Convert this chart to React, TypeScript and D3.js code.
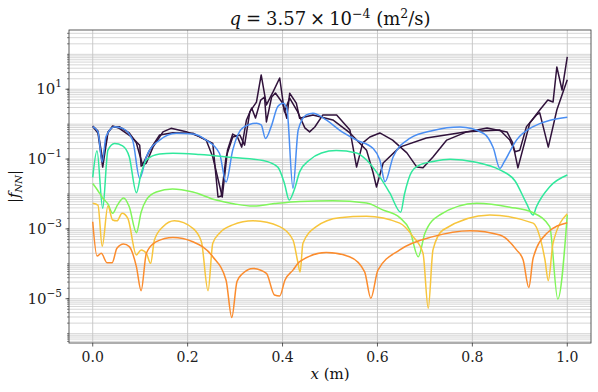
import React from 'react';
import * as d3 from 'd3';

// ---------- data ----------
const xTickValues = [0, 0.2, 0.4, 0.6, 0.8, 1.0];
const xTickLabels = ['0.0', '0.2', '0.4', '0.6', '0.8', '1.0'];
const yTickExponents = [-5, -3, -1, 1];
const yTickLabels = ['−5', '−3', '−1', '1'];

const darkAX = [0, 0.011, 0.021, 0.032, 0.042, 0.056, 0.081, 0.099, 0.102, 0.113, 0.127, 0.148, 0.165, 0.197, 0.225, 0.253, 0.264, 0.271, 0.281, 0.295, 0.310, 0.320, 0.331, 0.345, 0.355, 0.366, 0.380, 0.394, 0.404, 0.415, 0.432, 0.447, 0.457, 0.468, 0.485, 0.514, 0.542, 0.556, 0.569, 0.584, 0.605, 0.632, 0.662, 0.683, 0.696, 0.717, 0.746, 0.788, 0.831, 0.873, 0.885, 0.896, 0.921, 0.942, 0.959, 0.970, 0.978, 0.989, 1.0];
const darkAY = [0.85, 0.56, 0.059, 0.56, 0.89, 0.76, 0.44, 0.25, 0.063, 0.077, 0.22, 0.60, 0.76, 0.61, 0.44, 0.28, 0.0082, 0.0088, 0.115, 0.43, 0.49, 0.25, 2.24, 4.3, 25.7, 3.55, 8.4, 21, 2.24, 5.6, 2.24, 0.78, 0.60, 0.83, 1.84, 1.84, 0.68, 0.059, 0.29, 0.43, 0.56, 0.35, 0.15, 0.059, 0.056, 0.115, 0.35, 0.60, 0.78, 0.60, 0.29, 0.056, 1.08, 2.55, 4.9, 4.3, 43.5, 9.5, 84];

const darkBX = [0, 0.011, 0.021, 0.032, 0.042, 0.056, 0.077, 0.092, 0.105, 0.120, 0.141, 0.169, 0.211, 0.239, 0.253, 0.273, 0.284, 0.295, 0.305, 0.314, 0.324, 0.335, 0.343, 0.354, 0.362, 0.366, 0.377, 0.385, 0.400, 0.409, 0.415, 0.429, 0.436, 0.464, 0.506, 0.542, 0.577, 0.591, 0.598, 0.612, 0.647, 0.703, 0.788, 0.858, 0.879, 0.890, 0.900, 0.914, 0.935, 0.942, 0.960, 0.978, 1.0];
const darkBY = [0.89, 0.64, 0.094, 0.60, 0.83, 0.85, 0.56, 0.29, 0.068, 0.18, 0.49, 0.57, 0.55, 0.35, 0.115, 0.0082, 0.18, 0.52, 0.43, 0.22, 1.32, 2.9, 1.5, 4.9, 6.0, 1.16, 6.0, 7.8, 4.05, 1.48, 7.7, 4.0, 1.48, 1.84, 1.32, 0.56, 0.18, 0.040, 0.0159, 0.077, 0.22, 0.40, 0.61, 0.68, 0.35, 0.163, 0.18, 0.85, 1.84, 2.1, 0.22, 2.55, 18.6];

const blueX = [0, 0.011, 0.020, 0.028, 0.046, 0.063, 0.084, 0.099, 0.113, 0.141, 0.176, 0.211, 0.239, 0.267, 0.281, 0.295, 0.316, 0.345, 0.355, 0.364, 0.376, 0.390, 0.401, 0.409, 0.422, 0.433, 0.450, 0.464, 0.492, 0.520, 0.556, 0.591, 0.605, 0.616, 0.633, 0.668, 0.717, 0.774, 0.823, 0.844, 0.858, 0.867, 0.893, 0.928, 1.0];
const blueY = [0.85, 0.61, 0.083, 0.44, 0.85, 0.76, 0.35, 0.028, 0.117, 0.35, 0.55, 0.52, 0.35, 0.147, 0.022, 0.18, 0.78, 1.06, 0.95, 0.39, 0.85, 3.2, 4.0, 2.85, 0.0146, 0.68, 1.84, 2.05, 1.32, 0.68, 0.35, 0.20, 0.094, 0.0225, 0.115, 0.39, 0.66, 0.83, 0.55, 0.21, 0.054, 0.083, 0.35, 0.85, 1.58];

const tealX = [0, 0.009, 0.021, 0.032, 0.046, 0.063, 0.077, 0.092, 0.102, 0.113, 0.141, 0.169, 0.225, 0.295, 0.359, 0.390, 0.404, 0.414, 0.426, 0.436, 0.457, 0.482, 0.513, 0.556, 0.577, 0.605, 0.626, 0.649, 0.657, 0.672, 0.689, 0.717, 0.753, 0.805, 0.858, 0.890, 0.914, 0.928, 0.935, 0.963, 1.0];
const tealY = [0.030, 0.174, 0.0039, 0.18, 0.28, 0.24, 0.117, 0.0109, 0.039, 0.094, 0.14, 0.147, 0.135, 0.111, 0.091, 0.059, 0.020, 0.0067, 0.0149, 0.043, 0.094, 0.15, 0.176, 0.15, 0.094, 0.031, 0.0107, 0.0030, 0.010, 0.043, 0.068, 0.085, 0.099, 0.083, 0.049, 0.0236, 0.0054, 0.0025, 0.0043, 0.0162, 0.035];

const limeX = [0, 0.010, 0.021, 0.032, 0.042, 0.052, 0.065, 0.077, 0.092, 0.102, 0.113, 0.134, 0.168, 0.211, 0.260, 0.299, 0.337, 0.383, 0.436, 0.506, 0.577, 0.611, 0.647, 0.668, 0.686, 0.700, 0.731, 0.809, 0.879, 0.928, 0.963, 0.980, 1.0];
const limeY = [0.020, 0.013, 0.0077, 0.0052, 0.0028, 0.0048, 0.0077, 0.0043, 0.00078, 0.0030, 0.0068, 0.0114, 0.0139, 0.0114, 0.0067, 0.0052, 0.0045, 0.0053, 0.0061, 0.0064, 0.0055, 0.0035, 0.0021, 0.00093, 0.00016, 0.00075, 0.0025, 0.0054, 0.0042, 0.0029, 0.00116, 9.8e-6, 0.0025];

const yellowX = [0, 0.011, 0.020, 0.032, 0.042, 0.051, 0.062, 0.074, 0.092, 0.102, 0.113, 0.122, 0.130, 0.148, 0.172, 0.211, 0.229, 0.243, 0.253, 0.267, 0.295, 0.338, 0.394, 0.422, 0.432, 0.437, 0.443, 0.471, 0.520, 0.577, 0.647, 0.675, 0.696, 0.707, 0.717, 0.738, 0.837, 0.928, 0.942, 0.953, 0.960, 0.970, 1.0];
const yellowY = [0.0054, 0.0048, 0.00032, 0.0045, 0.0018, 0.0017, 0.0028, 0.0020, 0.00018, 0.00025, 0.0002, 0.000103, 0.00048, 0.00116, 0.0017, 0.00104, 0.00043, 1.7e-5, 0.00039, 0.00075, 0.0013, 0.0017, 0.00116, 0.00048, 0.000115, 5.8e-5, 0.00039, 0.00116, 0.0021, 0.0023, 0.00146, 0.0006, 0.0002, 5.3e-6, 0.00025, 0.00093, 0.0025, 0.00146, 0.0006, 0.000129, 3.3e-5, 0.00039, 0.0027];

const orangeX = [0, 0.009, 0.018, 0.030, 0.041, 0.051, 0.065, 0.077, 0.092, 0.102, 0.113, 0.134, 0.169, 0.211, 0.253, 0.281, 0.293, 0.304, 0.316, 0.338, 0.366, 0.383, 0.394, 0.405, 0.422, 0.436, 0.492, 0.541, 0.573, 0.586, 0.601, 0.647, 0.717, 0.795, 0.858, 0.893, 0.907, 0.919, 0.928, 0.957, 1.0];
const orangeY = [0.0016, 0.000167, 0.0002, 0.000108, 0.000108, 0.00028, 0.00037, 0.00031, 8.3e-5, 1.7e-5, 0.0002, 0.00043, 0.00057, 0.00043, 0.00016, 3.4e-5, 2.9e-6, 3.1e-5, 5.3e-5, 7.4e-5, 5.3e-5, 1.28e-5, 1.2e-5, 3.4e-5, 6.6e-5, 0.000115, 0.00021, 0.00016, 5.9e-5, 1.03e-5, 6.6e-5, 0.00025, 0.0006, 0.00089, 0.00067, 0.00025, 0.000129, 2.1e-5, 0.000144, 0.00075, 0.0015];

const seriesColors = ['#30123b', '#30123b', '#4a8ef2', '#30e89c', '#80f55a', '#f7c53c', '#fb8c2e'];

// ---------- layout ----------
const W = 598;
const H = 392;
const PL = 69, PR = 591, PT = 30, PB = 343;
const FONT = 'DejaVu Serif, serif';

export default function App() {
  const x = d3.scaleLinear().domain([-0.05, 1.05]).range([PL, PR]);
  const y = d3.scaleLog().domain([Math.pow(10, -6.268), Math.pow(10, 2.697)]).range([PB, PT]);
  const smooth = d3
    .line<[number, number]>()
    .x((d) => x(d[0]))
    .y((d) => y(d[1]))
    .curve(d3.curveMonotoneX);
  const straight = d3
    .line<[number, number]>()
    .x((d) => x(d[0]))
    .y((d) => y(d[1]));

  const series = [
    [darkAX, darkAY],
    [darkBX, darkBY],
    [blueX, blueY],
    [tealX, tealY],
    [limeX, limeY],
    [yellowX, yellowY],
    [orangeX, orangeY],
  ].map(([xs, ys], i) => {
    const pts = xs.map((v, k) => [v, ys[k]] as [number, number]);
    return {
      d: (i < 2 ? straight(pts) : smooth(pts)) || '',
      color: seriesColors[i],
    };
  });

  const [ymin, ymax] = y.domain();
  const gridVals: number[] = [];
  for (let e = -7; e <= 3; e++) {
    for (let m = 1; m <= 9; m++) {
      const v = m * Math.pow(10, e);
      if (v >= ymin && v <= ymax) gridVals.push(v);
    }
  }

  return (
    <svg
      width={W}
      height={H}
      style={{ position: 'absolute', left: 0, top: 0, background: '#fff' }}
      fontFamily={FONT}
    >
      <defs>
        <clipPath id="plotclip">
          <rect x={PL} y={PT} width={PR - PL} height={PB - PT} />
        </clipPath>
      </defs>
      <rect x={0} y={0} width={W} height={H} fill="#fff" />

      {/* horizontal grid */}
      {gridVals.map((v, i) => (
        <line key={'hg' + i} x1={PL} x2={PR} y1={y(v)} y2={y(v)} stroke="#cbcbcb" strokeWidth={0.8} />
      ))}
      {/* vertical grid */}
      {xTickValues.map((v, i) => (
        <line key={'vg' + i} x1={x(v)} x2={x(v)} y1={PT} y2={PB} stroke="#c4c4c4" strokeWidth={0.9} />
      ))}

      {/* series */}
      <g clipPath="url(#plotclip)" fill="none" strokeWidth={1.5} strokeLinejoin="round" strokeLinecap="butt">
        {series.map((s, i) => (
          <path key={'s' + i} d={s.d} stroke={s.color} />
        ))}
      </g>

      {/* frame */}
      <rect x={PL} y={PT} width={PR - PL} height={PB - PT} fill="none" stroke="#333" strokeWidth={0.8} />

      {/* x ticks */}
      {xTickValues.map((v, i) => (
        <g key={'xt' + i}>
          <line x1={x(v)} x2={x(v)} y1={PB} y2={PB + 3.5} stroke="#333" strokeWidth={0.8} />
          <text x={x(v)} y={PB + 19} textAnchor="middle" fontSize={14} fill="#222">
            {xTickLabels[i]}
          </text>
        </g>
      ))}

      {/* y minor ticks */}
      {gridVals.map((v, i) => (
        <line key={'ym' + i} x1={PL - 2} x2={PL} y1={y(v)} y2={y(v)} stroke="#333" strokeWidth={0.6} />
      ))}
      {/* y major ticks */}
      {yTickExponents.map((e, i) => (
        <g key={'yt' + i}>
          <line x1={PL - 3.5} x2={PL} y1={y(Math.pow(10, e))} y2={y(Math.pow(10, e))} stroke="#333" strokeWidth={0.8} />
          <text x={PL - 7} y={y(Math.pow(10, e)) + 5} textAnchor="end" fontSize={15} fill="#222">
            <tspan>10</tspan>
            <tspan dy={-7} fontSize={10.5}>{yTickLabels[i]}</tspan>
          </text>
        </g>
      ))}

      {/* title */}
      <text x={(PL + PR) / 2} y={25} textAnchor="middle" fontSize={18} fill="#111">
        <tspan fontStyle="italic">q</tspan>
        <tspan dx={5}>=</tspan>
        <tspan dx={5}>3.57</tspan>
        <tspan dx={4}>×</tspan>
        <tspan dx={4}>10</tspan>
        <tspan dy={-7} fontSize={12.5}>−4</tspan>
        <tspan dy={7}> (m</tspan>
        <tspan dy={-7} fontSize={12.5}>2</tspan>
        <tspan dy={7}>/s)</tspan>
      </text>

      {/* x label */}
      <text x={(PL + PR) / 2} y={379} textAnchor="middle" fontSize={15} fill="#111">
        <tspan fontStyle="italic">x</tspan>
        <tspan> (m)</tspan>
      </text>

      {/* y label */}
      <text transform={`translate(19,${(PT + PB) / 2}) rotate(-90)`} textAnchor="middle" fontSize={15} fill="#111">
        <tspan>|</tspan>
        <tspan fontStyle="italic">f</tspan>
        <tspan dy={3} fontSize={10} fontStyle="italic">NN</tspan>
        <tspan dy={-3}>|</tspan>
      </text>
    </svg>
  );
}
